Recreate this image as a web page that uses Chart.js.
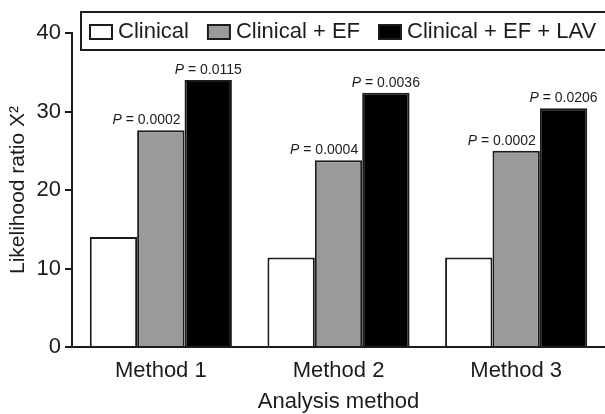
<!DOCTYPE html>
<html>
<head>
<meta charset="utf-8">
<script src="https://cdn.jsdelivr.net/npm/chart.js@4"></script>
<style>
  body { margin: 0; background: #fff; }
</style>
</head>
<body>
<canvas id="chart" width="605" height="414"></canvas>
<script>
// values
const methods = ['Method 1', 'Method 2', 'Method 3'];
const clinical = [14.0, 11.4, 11.4];
const clinicalEf = [27.6, 23.8, 25.0];
const clinicalEfLav = [34.0, 32.4, 30.4];
const pEf = ['0.0002', '0.0004', '0.0002'];
const pLav = ['0.0115', '0.0036', '0.0206'];
const yTicks = [0, 10, 20, 30, 40];

const ink = '#1c1c1c';
const family = '"Liberation Sans", Arial, sans-serif';
Chart.defaults.font.family = family;
Chart.defaults.color = ink;

function drawP(ctx, value, x, y, align) {
  ctx.font = 'italic 14px ' + family;
  const wP = ctx.measureText('P').width;
  ctx.font = '14px ' + family;
  const rest = ' = ' + value;
  const total = wP + ctx.measureText(rest).width;
  const start = align === 'right' ? x - total : x - total / 2;
  ctx.textAlign = 'left';
  ctx.font = 'italic 14px ' + family;
  ctx.fillText('P', start, y);
  ctx.font = '14px ' + family;
  ctx.fillText(rest, start + wP, y);
}

// P values above the EF and EF+LAV bars
const pLabels = {
  id: 'pLabels',
  afterDatasetsDraw(chart) {
    const ctx = chart.ctx;
    ctx.save();
    ctx.fillStyle = ink;
    ctx.textBaseline = 'middle';
    chart.getDatasetMeta(1).data.forEach((bar, i) => {
      drawP(ctx, pEf[i], bar.x + bar.width / 2 - 4, bar.y - 10, 'right');
    });
    chart.getDatasetMeta(2).data.forEach((bar, i) => {
      drawP(ctx, pLav[i], bar.x, bar.y - 10, 'center');
    });
    ctx.restore();
  }
};

// boxed legend sitting over the top of the plot
const boxLegend = {
  id: 'boxLegend',
  afterDraw(chart) {
    const { ctx, chartArea } = chart;
    const left = chartArea.left + 9;
    const top = chartArea.top - 21;
    const h = 38;
    const w = chart.width - left + 10;
    ctx.save();
    ctx.fillStyle = '#fff';
    ctx.fillRect(left, top, w, h);
    ctx.strokeStyle = ink;
    ctx.lineWidth = 2;
    ctx.strokeRect(left, top, w, h);
    ctx.font = '22px ' + family;
    ctx.textBaseline = 'middle';
    ctx.textAlign = 'left';
    let x = left + 9;
    chart.data.datasets.forEach(ds => {
      ctx.fillStyle = ds.backgroundColor;
      ctx.fillRect(x, top + 13, 22, 14);
      ctx.strokeRect(x, top + 13, 22, 14);
      x += 28;
      ctx.fillStyle = ink;
      ctx.fillText(ds.label, x, top + h / 2 + 1);
      x += ctx.measureText(ds.label).width + 19;
    });
    ctx.restore();
  }
};

new Chart(document.getElementById('chart'), {
  type: 'bar',
  data: {
    labels: methods,
    datasets: [
      { label: 'Clinical', data: clinical, backgroundColor: '#ffffff' },
      { label: 'Clinical + EF', data: clinicalEf, backgroundColor: '#9a9a9a' },
      { label: 'Clinical + EF + LAV', data: clinicalEfLav, backgroundColor: '#000000' }
    ]
  },
  options: {
    responsive: false,
    animation: false,
    layout: { padding: { top: 33, right: -3, left: 0, bottom: 0 } },
    datasets: {
      bar: { borderColor: ink, borderWidth: 2, categoryPercentage: 0.8, barPercentage: 1.0 }
    },
    plugins: { legend: { display: false }, tooltip: { enabled: false } },
    scales: {
      x: {
        grid: { display: false, drawTicks: false },
        border: { color: ink, width: 2 },
        ticks: { font: { size: 22 }, padding: 11 },
        title: { display: true, text: 'Analysis method', font: { size: 22 }, padding: { top: 0, bottom: -1 } },
        afterFit(scale) { scale.height = 67; }
      },
      y: {
        min: yTicks[0],
        max: yTicks[yTicks.length - 1],
        ticks: { stepSize: yTicks[1] - yTicks[0], font: { size: 22 }, padding: 4 },
        grid: { drawOnChartArea: false, color: ink, lineWidth: 2, tickLength: 7 },
        border: { color: ink, width: 2 },
        title: { display: true, text: 'Likelihood ratio X²', font: { size: 21 }, padding: { top: 6, bottom: 0 } },
        afterFit(scale) { scale.width = 72; }
      }
    }
  },
  plugins: [pLabels, boxLegend]
});
</script>
</body>
</html>
